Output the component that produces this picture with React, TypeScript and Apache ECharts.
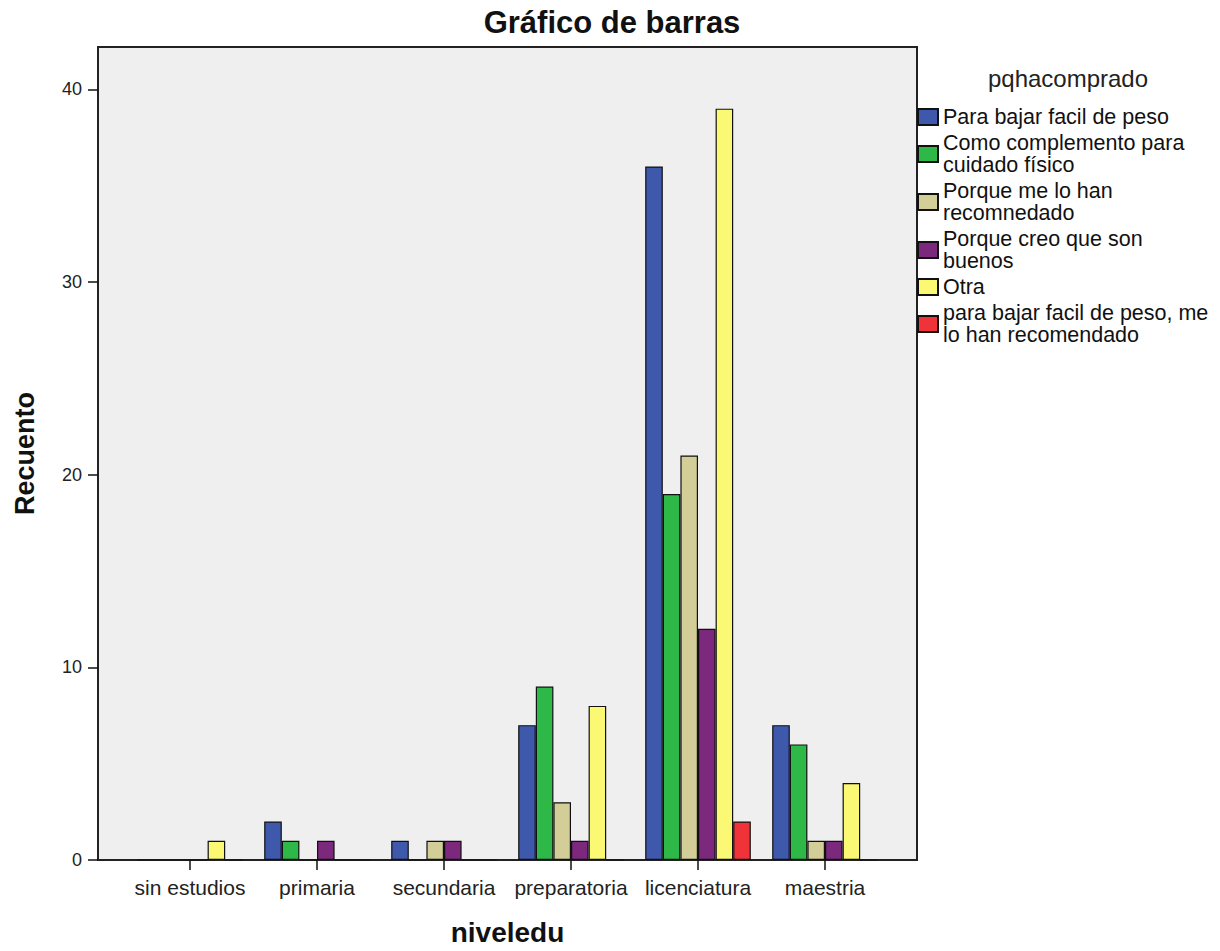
import React, { useEffect, useRef } from "react";
import * as echarts from "echarts";

const categories = ["sin estudios", "primaria", "secundaria", "preparatoria", "licenciatura", "maestria"];
const seriesNames = [
  "Para bajar facil de peso",
  "Como complemento para cuidado físico",
  "Porque me lo han recomnedado",
  "Porque creo que son buenos",
  "Otra",
  "para bajar facil de peso, me lo han recomendado",
];
const legendLabels = [
  "Para bajar facil de peso",
  "Como complemento para\ncuidado físico",
  "Porque me lo han\nrecomnedado",
  "Porque creo que son\nbuenos",
  "Otra",
  "para bajar facil de peso, me\nlo han recomendado",
];
const paraBajar = [0, 2, 1, 7, 36, 7];
const complemento = [0, 1, 0, 9, 19, 6];
const recomendado = [0, 0, 1, 3, 21, 1];
const creoBuenos = [0, 1, 1, 1, 12, 1];
const otra = [1, 0, 0, 8, 39, 4];
const bajarRecomendado = [0, 0, 0, 0, 2, 0];
const seriesValues = [paraBajar, complemento, recomendado, creoBuenos, otra, bajarRecomendado];
const colors = ["#3e58ac", "#2eb848", "#d3ce97", "#7c287d", "#fbf873", "#ef3338"];
const yTicks = [0, 10, 20, 30, 40];

const FONT = "Arial, 'Liberation Sans', sans-serif";

export default function App() {
  const ref = useRef<HTMLDivElement>(null);
  useEffect(() => {
    if (!ref.current) return;
    const chart = echarts.init(ref.current, undefined, { renderer: "svg" });
    const option: any = {
      animation: false,
      backgroundColor: "#ffffff",
      textStyle: { fontFamily: FONT },
      title: [
        {
          text: "Gráfico de barras",
          left: 607,
          top: 2,
          textAlign: "center",
          textStyle: { fontFamily: FONT, fontSize: 31, fontWeight: "bold", color: "#111" },
        },
        {
          text: "pqhacomprado",
          left: 1063,
          top: 61,
          textAlign: "center",
          textStyle: { fontFamily: FONT, fontSize: 24, fontWeight: "normal", color: "#222" },
        },
      ],
      legend: {
        orient: "vertical",
        left: 917,
        top: 106,
        padding: 0,
        itemWidth: 20,
        itemHeight: 16,
        itemGap: 4,
        icon: "rect",
        data: seriesNames,
        formatter: (name: string) => legendLabels[seriesNames.indexOf(name)],
        textStyle: { fontFamily: FONT, fontSize: 21.5, lineHeight: 22, color: "#111" },
      },
      grid: [
        {
          left: 98,
          top: 47,
          width: 819,
          height: 813,
          show: true,
          backgroundColor: "#efefef",
          borderColor: "#222",
          borderWidth: 2,
          outerBoundsMode: "none",
          containLabel: false,
        },
        { left: 126.5, top: 47, width: 762, height: 813, show: false, outerBoundsMode: "none", containLabel: false },
      ],
      xAxis: [
        { gridIndex: 0, type: "value", show: false, min: 0, max: 1 },
        {
          gridIndex: 1,
          type: "category",
          data: categories,
          axisLine: { show: false },
          axisTick: { show: true, alignWithLabel: true, length: 10, lineStyle: { color: "#111", width: 1.5 } },
          axisLabel: { fontFamily: FONT, fontSize: 21, color: "#222", margin: 17, interval: 0 },
          name: "niveledu",
          nameLocation: "middle",
          nameGap: 58,
          nameTextStyle: { fontFamily: FONT, fontSize: 28, fontWeight: "bold", color: "#111" },
        },
      ],
      yAxis: [
        { gridIndex: 0, type: "value", show: false, min: 0, max: 1 },
        {
          gridIndex: 1,
          type: "value",
          min: 0,
          max: 42.2,
          interval: 10,
          offset: 28.5,
          splitLine: { show: false },
          axisLine: { show: false },
          axisTick: { show: true, length: 10, customValues: yTicks, lineStyle: { color: "#111", width: 1.5 } },
          axisLabel: {
            fontFamily: FONT,
            fontSize: 18,
            color: "#222",
            margin: 16,
            customValues: yTicks,
            formatter: (v: number) => (v % 10 === 0 ? String(v) : ""),
          },
          name: "Recuento",
          nameLocation: "middle",
          nameGap: 60,
          nameRotate: 90,
          nameTextStyle: { fontFamily: FONT, fontSize: 27, fontWeight: "bold", color: "#111" },
        },
      ],
      series: seriesNames.map((name, i) => ({
        name,
        type: "bar",
        xAxisIndex: 1,
        yAxisIndex: 1,
        data: seriesValues[i],
        barWidth: 17.6,
        barGap: "0%",
        itemStyle: { color: colors[i], borderColor: "#111", borderWidth: 1.2 },
      })),
    };
    chart.setOption(option);
    return () => chart.dispose();
  }, []);
  return <div ref={ref} style={{ position: "absolute", left: 0, top: 0, width: 1220, height: 951 }} />;
}
